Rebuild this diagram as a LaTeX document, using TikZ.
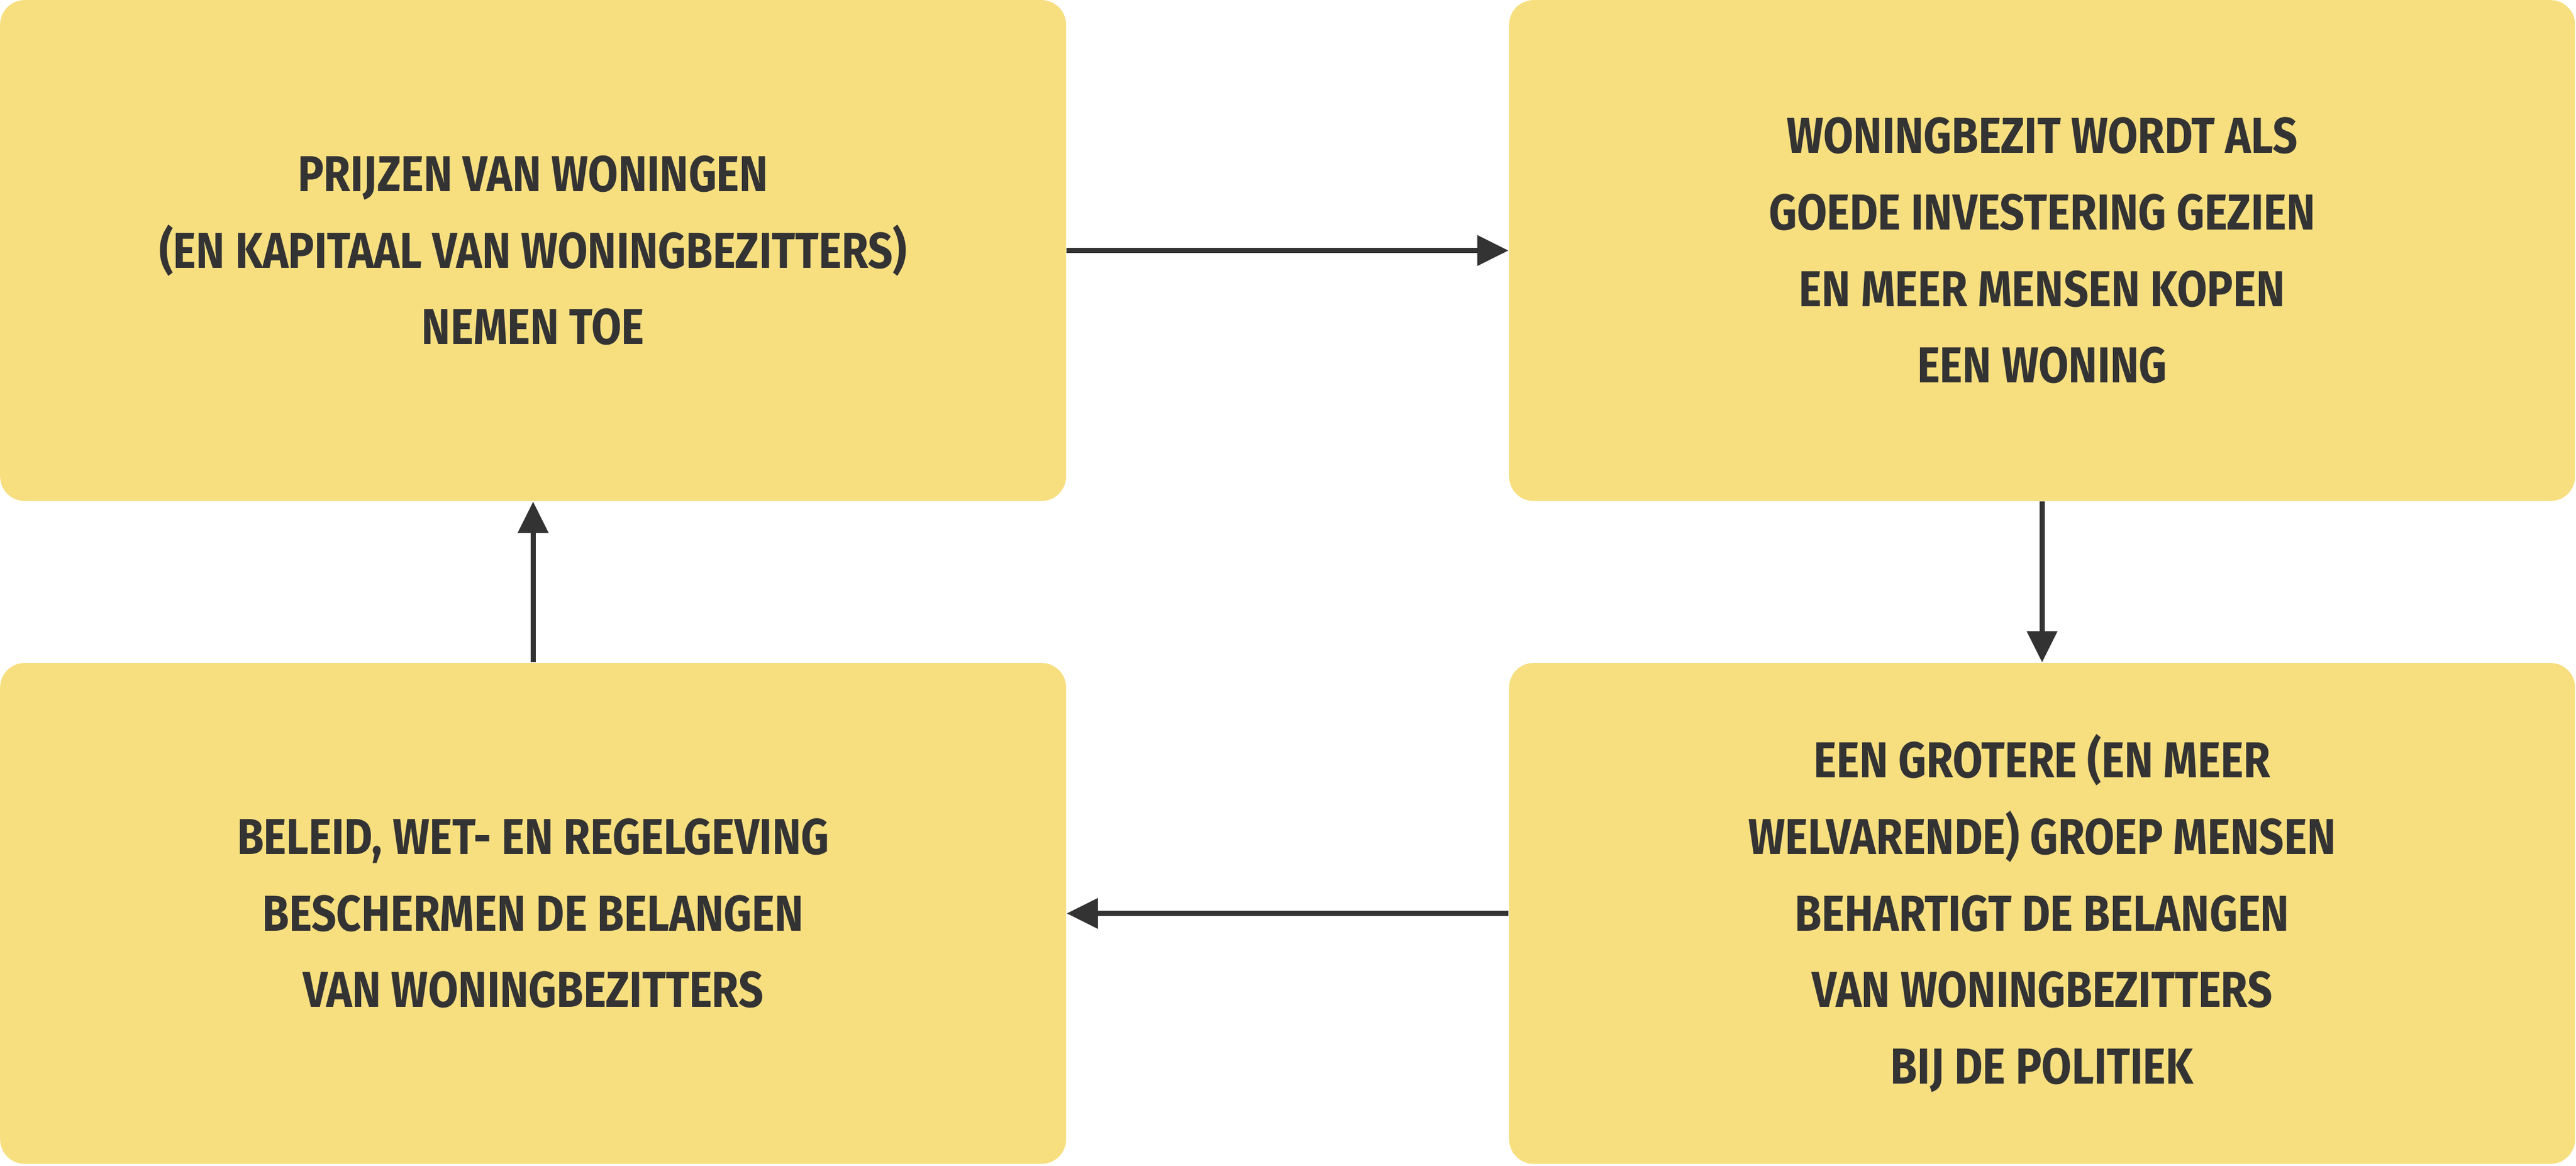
\documentclass[tikz,border=0pt]{standalone}
\usepackage{fontspec}
\setmainfont{Fira Sans}[FakeStretch=0.86]
\usetikzlibrary{arrows.meta}
\definecolor{boxy}{HTML}{F7DF80}
\definecolor{ink}{HTML}{333333}
\tikzset{
  card/.style={fill=boxy, rounded corners=0.3cm, minimum width=12.98cm, minimum height=6.1cm, inner sep=0pt, align=center, text=ink, font=\fontsize{17.5}{26.5}\selectfont\bfseries},
  link/.style={draw=ink, line width=0.06cm, -{Triangle[length=0.38cm,width=0.36cm]}}
}
\begin{document}
\begin{tikzpicture}[x=0.02cm,y=-0.02cm]
\useasboundingbox (0,0) rectangle (1568,709.5);
\node[card] (a) at (324.5,152.5) {PRIJZEN VAN WONINGEN\\(EN KAPITAAL VAN WONINGBEZITTERS)\\NEMEN TOE};
\node[card] (b) at (1243,152.5) {WONINGBEZIT WORDT ALS\\GOEDE INVESTERING GEZIEN\\EN MEER MENSEN KOPEN\\EEN WONING};
\node[card] (c) at (324.5,556) {BELEID, WET- EN REGELGEVING\\BESCHERMEN DE BELANGEN\\VAN WONINGBEZITTERS};
\node[card] (d) at (1243,556) {EEN GROTERE (EN MEER\\WELVARENDE) GROEP MENSEN\\BEHARTIGT DE BELANGEN\\VAN WONINGBEZITTERS\\BIJ DE POLITIEK};
\draw[link] (a.east) -- (b.west);
\draw[link] (b.south) -- (d.north);
\draw[link] (d.west) -- (c.east);
\draw[link] (c.north) -- (a.south);
\end{tikzpicture}
\end{document}
